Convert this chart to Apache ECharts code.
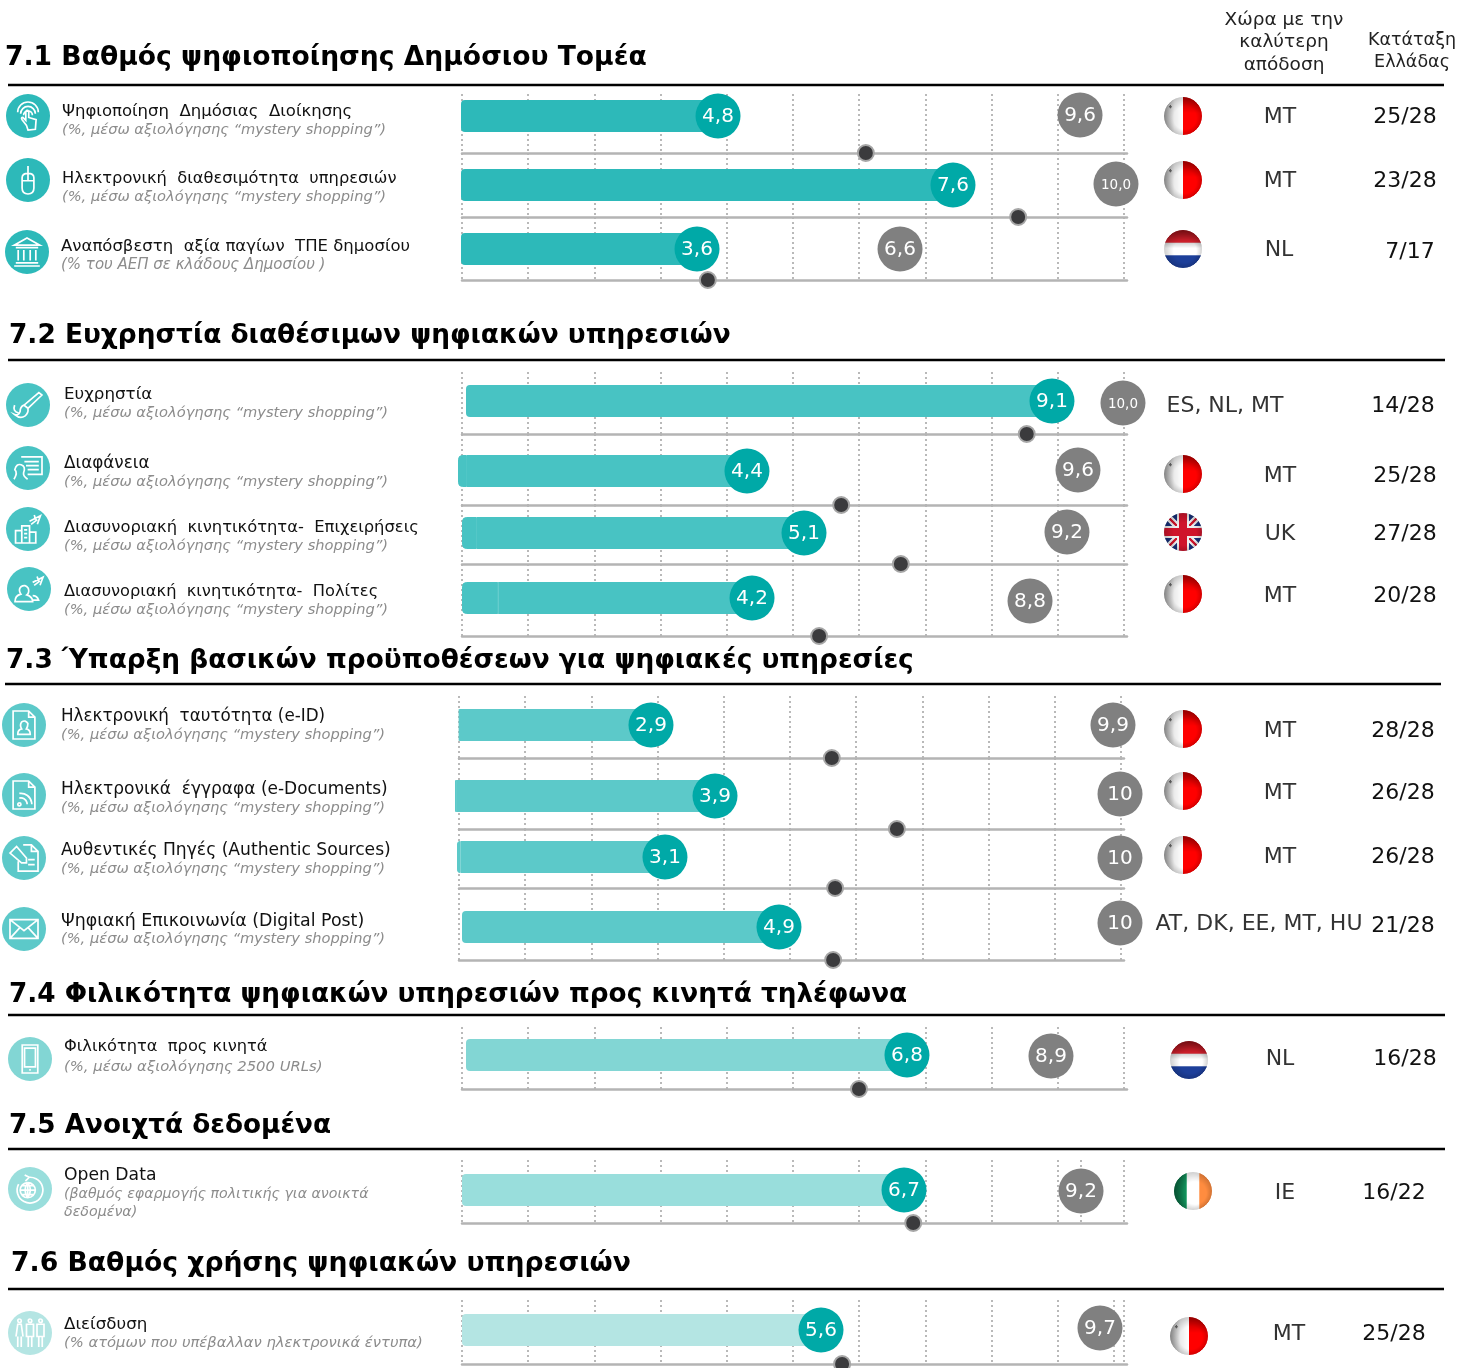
<!DOCTYPE html>
<html><head><meta charset="utf-8">
<style>html,body{margin:0;padding:0;background:#fff}#c{width:1468px;height:1368px}</style>
<script src="https://cdn.jsdelivr.net/npm/echarts@6/dist/echarts.min.js"></script>
</head><body><div id="c"></div>
<script>
// ---- data -------------------------------------------------------------
var sectionTitles = [
  '7.1 Βαθμός ψηφιοποίησης Δημόσιου Τομέα',
  '7.2 Ευχρηστία διαθέσιμων ψηφιακών υπηρεσιών',
  '7.3 Ύπαρξη βασικών προϋποθέσεων για ψηφιακές υπηρεσίες',
  '7.4 Φιλικότητα ψηφιακών υπηρεσιών προς κινητά τηλέφωνα',
  '7.5 Ανοιχτά δεδομένα',
  '7.6 Βαθμός χρήσης ψηφιακών υπηρεσιών'
];
var headerBest = ['Χώρα με την', 'καλύτερη', 'απόδοση'];
var headerRank = ['Κατάταξη', 'Ελλάδας'];
var MS = '(%, μέσω αξιολόγησης “mystery shopping”)';
var rowLabels = [
  'Ψηφιοποίηση  Δημόσιας  Διοίκησης', 'Ηλεκτρονική  διαθεσιμότητα  υπηρεσιών', 'Αναπόσβεστη  αξία παγίων  ΤΠΕ δημοσίου',
  'Ευχρηστία', 'Διαφάνεια', 'Διασυνοριακή  κινητικότητα-  Επιχειρήσεις', 'Διασυνοριακή  κινητικότητα-  Πολίτες',
  'Ηλεκτρονική  ταυτότητα (e-ID)', 'Ηλεκτρονικά  έγγραφα (e-Documents)', 'Αυθεντικές Πηγές (Authentic Sources)', 'Ψηφιακή Επικοινωνία (Digital Post)',
  'Φιλικότητα  προς κινητά', 'Open Data', 'Διείσδυση'
];
var rowNotes = [
  MS, MS, '(% του ΑΕΠ σε κλάδους Δημοσίου )',
  MS, MS, MS, MS,
  MS, MS, MS, MS,
  '(%, μέσω αξιολόγησης 2500 URLs)', '(βαθμός εφαρμογής πολιτικής για ανοικτά\nδεδομένα)', '(% ατόμων που υπέβαλλαν ηλεκτρονικά έντυπα)'
];
var greeceValues = [4.8, 7.6, 3.6, 9.1, 4.4, 5.1, 4.2, 2.9, 3.9, 3.1, 4.9, 6.8, 6.7, 5.6];
var bestValues   = [9.6, 10, 6.6, 10, 9.6, 9.2, 8.8, 9.9, 10, 10, 10, 8.9, 9.2, 9.7];
var bestLabels   = ['9,6', '10,0', '6,6', '10,0', '9,6', '9,2', '8,8', '9,9', '10', '10', '10', '8,9', '9,2', '9,7'];
var euAverages   = [6.76, 8.56, 3.76, 8.78, 5.88, 6.61, 5.31, 5.64, 6.64, 5.68, 5.71, 6.10, 6.83, 5.91];
var bestCountries = ['MT', 'MT', 'NL', 'ES, NL, MT', 'MT', 'UK', 'MT', 'MT', 'MT', 'MT', 'AT, DK, EE, MT, HU', 'NL', 'IE', 'MT'];
var greeceRanks = ['25/28', '23/28', '7/17', '14/28', '25/28', '27/28', '20/28', '28/28', '26/28', '26/28', '21/28', '16/28', '16/22', '25/28'];
var flags = ['MT', 'MT', 'NL', '', 'MT', 'UK', 'MT', 'MT', 'MT', 'MT', '', 'NL', 'IE', 'MT'];
var tickValues = [0, 10];

// ---- layout and style (not data) ----------------------------------------
var rowSection = [0,0,0,1,1,1,1,2,2,2,2,3,4,5];
var barColors = ['#2db9b9','#48c3c3','#5cc9c9','#82d6d4','#99dedc','#b4e5e3'];
var axisMins = [1.392,0.356,0.112,1.672,-0.140,-0.232,-0.599,-0.009,-0.016,-0.054,0.159,0.369,0.457,0.324];
var axisMaxs = [10.183,10.118,9.910,10.013,10.323,10.089,10.355,10.067,10.06,10.061,10.06,9.965,9.807,10.053];
var barLefts = [461,461,461,466,458,462,462,459,455,457,462,466,462,462];
var barYs = [116,185,249,401,471,533,598,725,796,857,927,1055,1190,1330];
var bestDy = [-1,-1,0,2,-1,-1,3,0,-2,1,-4,1,1,-2];
var baselines = [153,217,280,434,505,564,636,758,829,888,960,1089,1223,1364];
var gridTops = [94,153,217,372,434,505,564,696,758,829,888,1027,1160,1300];
var gridLefts = [462,462,462,462,462,462,462,459,459,459,459,462,462,462];
var titleXY = [[5,56],[9,334],[6,659],[9,993],[9,1124],[11,1262]];
var titleSizes = [26.6,26.4,26.4,26.3,26.3,26.65];
var ruleY = [85,360,684,1015,1149,1289];
var ruleX = [[8,1444],[8,1445],[5,1441],[8,1445],[8,1445],[8,1444]];
var labelXY = [[62,110],[62,177],[61,245],[64,393],[64,462],[64,526],[64,590],[61,715],[61,788],[61,849],[61,920],[64,1045],[64,1174],[64,1323]];
var labelSizes = [16.5,16.3,16.5,16.7,16.8,16.35,16.25,16.75,17,17.15,17.4,16.25,17.2,16.7];
var noteY = [129,196,264,412,481,545,609,734,807,868,938,1066,1193,1342];
var noteSizes = [14.65,14.65,15,14.65,14.65,14.65,14.65,14.65,14.65,14.65,14.65,14.8,14.2,14.75];
var iconXY = [[28,116],[28,180],[27,252],[28,405],[28,468],[28,529],[29,589],[24,725],[24,795],[24,858],[24,929],[30,1059],[30,1189],[30,1333]];
var flagXY = [[1183,116],[1183,180],[1183,249],null,[1183,474],[1183,532],[1183,594],[1183,729],[1183,791],[1183,855],null,[1189,1060],[1193,1191],[1189,1336]];
var codeXY = [[1280,116],[1280,180],[1279,249],[1225,405],[1280,475],[1280,533],[1280,595],[1280,730],[1280,792],[1280,856],[1259,923],[1280,1058],[1285,1192],[1289,1333]];
var rankXY = [[1405,116],[1405,180],[1410,251],[1403,405],[1405,475],[1405,533],[1405,595],[1403,730],[1403,792],[1403,856],[1403,925],[1405,1058],[1394,1192],[1394,1333]];
var extraLines = [[1081,1160,1223],[1114,1300,1364]];
var FONT = '"DejaVu Sans", Verdana, sans-serif';
var GREEN = '#00a9a7', GREY = '#808080';

// icon glyphs: white outlines on a 40 x 40 box
var iconPaths = [
  'M6 14A14 14 0 0 1 34 14M10 16A10 10 0 0 1 30 16M14 18A6 6 0 0 1 26 18M18 32L12 24Q10 21 13 21L17 25L17 13Q19 10 21 13L21 21L31 24L30 37L20 38Z',
  'M20 0L20 10M12 16Q12 10 20 10Q28 10 28 16L28 30Q28 38 20 38Q12 38 12 30ZM12 20L28 20M20 10L20 20',
  'M20 2L36 11L4 11ZM6 14L34 14M9 17L9 30M16 17L16 30M24 17L24 30M31 17L31 30M6 33L34 33M4 37L36 37',
  'M38 3L20 20L15 16L34 0ZM15 16Q10 18 10 24Q8 30 3 28Q10 34 16 30Q21 26 20 20M3 16Q0 24 8 26',
  'M12 6L38 6L38 28L20 28M16 12L34 12M18 17L34 17M20 22L34 22M3 34Q8 26 4 22Q6 14 12 16Q18 18 15 26Q14 30 20 34',
  'M6 22L14 22L14 38L6 38ZM14 16L24 16L24 38L14 38ZM24 24L32 24L32 38L24 38ZM17 21L21 21M17 26L21 26M17 31L21 31M24 10L38 3L34 14M30 2L32 8M26 14L34 8',
  'M2 36Q2 28 10 26Q6 20 10 16Q16 12 20 18Q22 24 18 27Q26 30 26 36ZM26 28Q32 28 34 34L26 34M26 10L40 3L36 14M32 2L34 8M28 14L36 8',
  'M6 2L26 2L34 10L34 38L6 38ZM26 2L26 10L34 10M12 32Q12 26 17 25Q14 20 17 16Q22 13 25 18Q25 22 23 25Q28 26 28 32Z',
  'M6 2L26 2L34 10L34 38L6 38ZM26 2L26 10L34 10M14 30A2 2 0 1 0 14.1 30M14 24A8 8 0 0 1 24 32M14 18A14 14 0 0 1 30 32',
  'M18 4L28 4L36 12L36 36L12 36L12 24M28 4L28 12L36 12M2 14L10 6L22 20L22 26L16 26ZM24 22L32 22M24 28L32 28',
  'M2 8L38 8L38 32L2 32ZM2 8L20 22L38 8M2 32L15 18M38 32L25 18',
  'M10 2L30 2L30 38L10 38ZM13 6L27 6L27 30L13 30ZM19 34L21 34',
  'M8 12A17 17 0 1 0 22 3M22 3L16 0M22 3L17 8M20 10A10 10 0 1 0 20.1 10M10 20L30 20M20 10L20 30M12 14L28 14M12 26L28 26M20 10Q13 20 20 30M20 10Q27 20 20 30',
  'M8 6A2 2 0 1 0 8.1 6M20 6A2 2 0 1 0 20.1 6M32 6A2 2 0 1 0 32.1 6M4 26L6 12L10 12L12 26M6 26L6 38M10 26L10 38M16 12L24 12L24 26L16 26ZM18 26L18 38M22 26L22 38M28 12L36 12L36 26L28 26ZM30 26L30 38M34 26L34 38'
];

function drawFlag(code) {
  var S = 80, cv = document.createElement('canvas');
  cv.width = cv.height = S;
  var g = cv.getContext('2d');
  g.beginPath(); g.arc(S/2, S/2, S/2, 0, Math.PI*2); g.clip();
  g.fillStyle = '#fff'; g.fillRect(0,0,S,S);
  if (code === 'MT') {
    g.fillStyle = '#ff0000'; g.fillRect(S/2,0,S/2,S);
    var l = g.createLinearGradient(0,0,S/2,0);
    l.addColorStop(0,'#a0a0a0'); l.addColorStop(.55,'#ececec'); l.addColorStop(1,'#fff');
    g.fillStyle = l; g.fillRect(0,0,S/2,S);
    g.fillStyle = '#666'; g.fillRect(11,19,5,3); g.fillRect(12,17,3,7);
    var t = g.createLinearGradient(0,0,0,S*.42);
    t.addColorStop(0,'rgba(110,0,0,.55)'); t.addColorStop(1,'rgba(110,0,0,0)');
    g.fillStyle = t; g.fillRect(S/2,0,S/2,S*.45);
  } else if (code === 'NL') {
    g.fillStyle = '#d0202c'; g.fillRect(0,0,S,S/3);
    g.fillStyle = '#1d3f9a'; g.fillRect(0,S*2/3,S,S/3);
    var t2 = g.createLinearGradient(0,0,0,S*.32);
    t2.addColorStop(0,'rgba(70,0,0,.5)'); t2.addColorStop(1,'rgba(70,0,0,0)');
    g.fillStyle = t2; g.fillRect(0,0,S,S*.33);
    var t3 = g.createLinearGradient(0,S*.33,0,S*.48);
    t3.addColorStop(0,'rgba(0,0,0,.18)'); t3.addColorStop(1,'rgba(0,0,0,0)');
    g.fillStyle = t3; g.fillRect(0,S*.33,S,S*.15);
  } else if (code === 'IE') {
    g.fillStyle = '#12985f'; g.fillRect(0,0,S/3,S);
    g.fillStyle = '#ff8c3f'; g.fillRect(S*2/3,0,S/3,S);
    var t4 = g.createLinearGradient(0,0,S/3,0);
    t4.addColorStop(0,'rgba(0,50,30,.5)'); t4.addColorStop(1,'rgba(0,0,0,0)');
    g.fillStyle = t4; g.fillRect(0,0,S/3,S);
  } else if (code === 'UK') {
    g.fillStyle = '#16307a'; g.fillRect(0,0,S,S);
    g.strokeStyle = '#eee'; g.lineWidth = 14;
    g.beginPath(); g.moveTo(0,0); g.lineTo(S,S); g.moveTo(S,0); g.lineTo(0,S); g.stroke();
    g.strokeStyle = '#cf142b'; g.lineWidth = 5;
    g.beginPath(); g.moveTo(0,0); g.lineTo(S,S); g.moveTo(S,0); g.lineTo(0,S); g.stroke();
    g.fillStyle = '#eee'; g.fillRect(S/2-13,0,26,S); g.fillRect(0,S/2-13,S,26);
    g.fillStyle = '#cf142b'; g.fillRect(S/2-8,0,16,S); g.fillRect(0,S/2-8,S,16);
  }
  var r = g.createRadialGradient(S*.55,S*.55,S*.3,S/2,S/2,S*.52);
  r.addColorStop(0,'rgba(0,0,0,0)'); r.addColorStop(1,'rgba(0,0,0,.2)');
  g.fillStyle = r; g.fillRect(0,0,S,S);
  return cv;
}

// ---- option --------------------------------------------------------------
var grids = [], xAxes = [], yAxes = [], series = [], graphics = [];

function text(str, x, y, size, opts) {
  opts = opts || {};
  graphics.push({ type:'text', silent:true, z:10, style:{
    text:str, x:x, y:y + (opts.dy === undefined ? 1.5 : opts.dy), fill:opts.color||'#111', font:(opts.style||'')+' '+size+'px '+FONT,
    align:opts.align||'left', verticalAlign:'middle', lineHeight:opts.lineHeight||size+4
  }});
}

sectionTitles.forEach(function(t,i){
  text(t, titleXY[i][0], titleXY[i][1], titleSizes[i], {style:'bold', color:'#000', dy:2});
  graphics.push({type:'line', silent:true, shape:{x1:ruleX[i][0],y1:ruleY[i],x2:ruleX[i][1],y2:ruleY[i]}, style:{stroke:'#000',lineWidth:2.5}});
});
headerBest.forEach(function(t,i){ text(t,1284,[19,41,64][i],18.5,{align:'center',color:'#222'}); });
headerRank.forEach(function(t,i){ text(t,1412,[39,61][i],17.5,{align:'center',color:'#222'}); });
extraLines.forEach(function(l){
  graphics.push({type:'line', silent:true, shape:{x1:l[0],y1:l[1],x2:l[0],y2:l[2]}, style:{stroke:'#a8a8a8',lineWidth:1.6,lineDash:[2,3]}});
});

rowLabels.forEach(function(lab,i){
  var sec = rowSection[i];
  text(lab, labelXY[i][0], labelXY[i][1], labelSizes[i]);
  text(rowNotes[i], labelXY[i][0], rowNotes[i].indexOf('\n')>0 ? noteY[i]+9 : noteY[i], noteSizes[i], {style:'italic', color:'#8c8c8c', lineHeight:18, dy:1});
  text(bestCountries[i], codeXY[i][0], codeXY[i][1], 22, {align:'center', color:'#333'});
  text(greeceRanks[i], rankXY[i][0], rankXY[i][1], 22, {align:'center', color:'#111'});

  if (flagXY[i]) graphics.push({type:'image', silent:true,
    style:{image:drawFlag(flags[i]), x:flagXY[i][0]-19, y:flagXY[i][1]-19, width:38, height:38}});

  // scale grid: dotted 0-10 lines plus the grey baseline
  var gi = grids.length;
  grids.push({left:gridLefts[i], width:665, top:gridTops[i], height:baselines[i]-gridTops[i]});
  xAxes.push({gridIndex:gi, type:'value', min:tickValues[0], max:10.045, interval:1, position:'bottom',
    axisLabel:{show:false}, axisTick:{show:false},
    axisLine:{show:true, onZero:false, lineStyle:{color:'#b4b4b4', width:2.5}},
    splitLine:{show:true, showMaxLine:false, lineStyle:{color:'#a8a8a8', type:[2,3], width:1.6}}});
  yAxes.push({gridIndex:gi, type:'value', show:false, min:0, max:1, splitLine:{show:false}});

  // value grid: the bar and its markers, on this row's own axis
  var vi = grids.length;
  grids.push({left:barLefts[i], right:1468-1124, top:barYs[i]-16, height:32});
  xAxes.push({gridIndex:vi, type:'value', show:false, min:axisMins[i], max:axisMaxs[i], splitLine:{show:false}});
  yAxes.push({gridIndex:vi, type:'category', show:false, data:[rowLabels[i]]});

  var negStart = axisMins[i] < 0;
  series.push({type:'bar', name:lab, xAxisIndex:vi, yAxisIndex:vi, data:[greeceValues[i]], barWidth:32, barGap:'-100%', z:3,
    silent:true, itemStyle:{color:barColors[sec], borderRadius:negStart ? [0,4,4,0] : 4}});
  if (negStart) {
    // axis begins a little below zero on these rows: carry the bar back to the axis start
    series.push({type:'bar', name:lab, xAxisIndex:vi, yAxisIndex:vi, data:[axisMins[i]], barWidth:32, barGap:'-100%', z:3,
      silent:true, itemStyle:{color:barColors[sec], borderColor:barColors[sec], borderWidth:1, borderRadius:[4,0,0,4]}});
  }
  series.push({type:'scatter', name:'Μ.Ο. ΕΕ', xAxisIndex:vi, yAxisIndex:vi, clip:false, silent:true, z:4,
    data:[[euAverages[i], rowLabels[i]]], symbolSize:16, symbolOffset:[0, baselines[i]-barYs[i]],
    itemStyle:{color:'#3b3b3d', borderColor:'#a6a6a6', borderWidth:2, opacity:1}});
  series.push({type:'scatter', name:'Καλύτερη', xAxisIndex:vi, yAxisIndex:vi, clip:false, silent:true, z:5,
    data:[[bestValues[i], rowLabels[i]]], symbolSize:45, symbolOffset:[0, bestDy[i]],
    itemStyle:{color:GREY, opacity:1},
    label:{show:true, position:'inside', offset:[0,1], formatter:bestLabels[i], color:'#fff', fontFamily:FONT, fontSize:bestLabels[i]==='10,0'?13.5:20}});
  series.push({type:'scatter', name:'Ελλάδα', xAxisIndex:vi, yAxisIndex:vi, clip:false, silent:true, z:6,
    data:[[greeceValues[i], rowLabels[i]]], symbolSize:45,
    itemStyle:{color:GREEN, opacity:1},
    label:{show:true, position:'inside', offset:[0,1], formatter:String(greeceValues[i]).replace('.',','), color:'#fff', fontFamily:FONT, fontSize:20}});
});

// row icons: circle plus white outline glyph
series.push({type:'custom', coordinateSystem:'none', silent:true, z:7, data:rowLabels.map(function(l,i){return i;}),
  renderItem:function(params){
    var i = params.dataIndex, c = iconXY[i];
    return {type:'group', children:[
      {type:'circle', shape:{cx:c[0],cy:c[1],r:22}, style:{fill:barColors[rowSection[i]]}},
      {type:'path', shape:{pathData:iconPaths[i], layout:'center', x:c[0]-14, y:c[1]-14, width:28, height:28},
        style:{fill:'none', stroke:'#fff', lineWidth:1.7}}
    ]};
  }});

var chart = echarts.init(document.getElementById('c'), null, {renderer:'canvas'});
chart.setOption({
  animation:false, backgroundColor:'#fff', tooltip:{show:false}, legend:{show:false},
  grid:grids, xAxis:xAxes, yAxis:yAxes, series:series, graphic:{elements:graphics}
});
</script></body></html>
